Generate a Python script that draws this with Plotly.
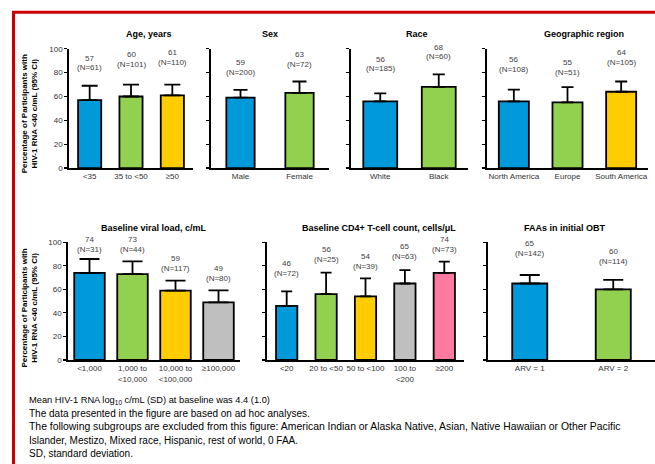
import plotly.graph_objects as go

W, H = 655, 464

# ---------------- data ----------------
age_cats = ["&lt;35", "35 to &lt;50", "≥50"]
age_pct = [57, 60, 61]
age_n = [61, 101, 110]
age_upper = [69, 70, 70]

sex_cats = ["Male", "Female"]
sex_pct = [59, 63]
sex_n = [200, 72]
sex_upper = [65.5, 72.6]

race_cats = ["White", "Black"]
race_pct = [56, 68]
race_n = [185, 60]
race_upper = [62.7, 78.6]

geo_cats = ["North America", "Europe", "South America"]
geo_pct = [56, 55, 64]
geo_n = [108, 51, 105]
geo_upper = [65.8, 67.9, 72.6]

vl_cats = ["&lt;1,000", "1,000 to<br>&lt;10,000", "10,000 to<br>&lt;100,000", "≥100,000"]
vl_pct = [74, 73, 59, 49]
vl_n = [31, 44, 117, 80]
vl_upper = [85.8, 83.8, 67.5, 59.2]

cd4_cats = ["&lt;20", "20 to &lt;50", "50 to &lt;100", "100 to<br>&lt;200", "≥200"]
cd4_pct = [46, 56, 54, 65, 74]
cd4_n = [72, 25, 39, 63, 73]
cd4_upper = [58.3, 74.2, 69.4, 76.4, 83.6]

faa_cats = ["ARV = 1", "ARV = 2"]
faa_pct = [65, 60]
faa_n = [142, 114]
faa_upper = [72.2, 68]

y_ticks = [0, 20, 40, 60, 80, 100]

footnotes = [
    "Mean HIV-1 RNA log<sub>10</sub> c/mL (SD) at baseline was 4.4 (1.0)",
    "The data presented in the figure are based on ad hoc analyses.",
    "The following subgroups are excluded from this figure: American Indian or Alaska Native, Asian, Native Hawaiian or Other Pacific",
    "Islander, Mestizo, Mixed race, Hispanic, rest of world, 0 FAA.",
    "SD, standard deviation.",
]

# ---------------- style ----------------
BLUE, GREEN, YELLOW, GRAY, PINK = "#0099DA", "#92D050", "#FFCC00", "#BFBFBF", "#FF7AA2"
FONT = "Liberation Sans, Arial, sans-serif"
foot_sizes = [9.3, 10, 10.4, 10, 10]

def px_x(x):
    return x / W

def px_y(y):
    return 1 - y / H

TOP = (45.7, 167.3)
BOT = (243.0, 363.0)

panels = [
    dict(title="Age, years", cats=age_cats, pct=age_pct, n=age_n, up=age_upper,
         xd=(69, 193), yd=TOP, bw=0.56, cap=8, colors=[BLUE, GREEN, YELLOW],
         lift=[17.8, 19.9, 21.9], tx=149, first=True),
    dict(title="Sex", cats=sex_cats, pct=sex_pct, n=sex_n, up=sex_upper,
         xd=(211, 329), yd=TOP, bw=0.48, cap=7, colors=[BLUE, GREEN],
         lift=[17.6, 17.0], tx=270, first=False),
    dict(title="Race", cats=race_cats, pct=race_pct, n=race_n, up=race_upper,
         xd=(351, 468), yd=TOP, bw=0.58, cap=6, colors=[BLUE, GREEN],
         lift=[24.3, 17.5], tx=417, first=False),
    dict(title="Geographic region", cats=geo_cats, pct=geo_pct, n=geo_n, up=geo_upper,
         xd=(487, 648), yd=TOP, bw=0.56, cap=6, colors=[BLUE, GREEN, YELLOW],
         lift=[19.9, 14.6, 19.0], tx=584, first=False),
    dict(title="Baseline viral load, c/mL", cats=vl_cats, pct=vl_pct, n=vl_n, up=vl_upper,
         xd=(68, 240), yd=BOT, bw=0.71, cap=10, colors=[BLUE, GREEN, YELLOW, GRAY],
         lift=[9.6, 12, 12, 12], tx=154, first=True),
    dict(title="Baseline CD4+ T-cell count, cells/μL", cats=cd4_cats, pct=cd4_pct, n=cd4_n, up=cd4_upper,
         xd=(267, 464), yd=BOT, bw=0.54, cap=5.5, colors=[BLUE, GREEN, YELLOW, GRAY, PINK],
         lift=[18, 13.2, 12, 13.9, 12], tx=379, first=False),
    dict(title="FAAs in initial OBT", cats=faa_cats, pct=faa_pct, n=faa_n, up=faa_upper,
         xd=(488, 655), yd=BOT, bw=0.42, cap=10, colors=[BLUE, GREEN],
         lift=[21.6, 18.8], tx=565, first=False),
]

fig = go.Figure()
annotations = []
layout = {}

for i, p in enumerate(panels):
    k = "" if i == 0 else str(i + 1)
    xa, ya = "x" + k, "y" + k
    err_plus = [u - v for u, v in zip(p["up"], p["pct"])]
    fig.add_trace(go.Bar(
        x=p["cats"], y=p["pct"], xaxis=xa, yaxis=ya, width=p["bw"],
        marker=dict(color=p["colors"], line=dict(color="black", width=1.8)),
        error_y=dict(type="data", symmetric=False, array=err_plus,
                     arrayminus=[0] * len(err_plus), color="black",
                     thickness=1.8, width=p["cap"]),
        showlegend=False, hoverinfo="skip",
    ))
    layout["xaxis" + k] = dict(
        domain=[px_x(p["xd"][0]), min(1.0, px_x(p["xd"][1]))], anchor=ya,
        type="category", range=[-0.5, len(p["cats"]) - 0.5],
        showline=True, linecolor="black", linewidth=1.8, ticks="",
        showgrid=False, zeroline=False, fixedrange=True,
        tickfont=dict(family=FONT, size=8, color="#333333"),
    )
    layout["yaxis" + k] = dict(
        domain=[px_y(p["yd"][1]), px_y(p["yd"][0])], anchor=xa,
        range=[0, 100], tickvals=y_ticks, showticklabels=p["first"],
        showline=True, linecolor="black", linewidth=1.8,
        ticks="outside", ticklen=3, tickwidth=1.2, tickcolor="black",
        showgrid=False, zeroline=False, fixedrange=True,
        tickfont=dict(family=FONT, size=8, color="#333333"),
    )
    # panel title
    annotations.append(dict(
        text="<b>%s</b>" % p["title"], xref="paper", yref="paper",
        x=px_x(p["tx"]), y=px_y(p["yd"][0] - 15), xanchor="center", yanchor="middle",
        showarrow=False, font=dict(family=FONT, size=9, color="black"),
    ))
    # value labels
    for c, v, n, u, lift in zip(p["cats"], p["pct"], p["n"], p["up"], p["lift"]):
        annotations.append(dict(
            text="(N=%d)" % n, xref=xa, yref=ya, x=c, y=u, yshift=lift,
            xanchor="center", yanchor="middle", showarrow=False,
            font=dict(family=FONT, size=8, color="#404040"),
        ))
        annotations.append(dict(
            text="%d" % v, xref=xa, yref=ya, x=c, y=u, yshift=lift + 9.8,
            xanchor="center", yanchor="middle", showarrow=False,
            font=dict(family=FONT, size=8, color="#404040"),
        ))

# y-axis titles
for ycen in (112, 310):
    annotations.append(dict(
        text="<b>Percentage of Participants with<br>HIV-1 RNA &lt;40 c/mL (95% CI)</b>",
        xref="paper", yref="paper", x=px_x(29.5), y=px_y(ycen),
        xanchor="center", yanchor="middle", textangle=-90, showarrow=False,
        font=dict(family=FONT, size=8, color="black"),
    ))

# footnotes
for j, (line, fs) in enumerate(zip(footnotes, foot_sizes)):
    annotations.append(dict(
        text=line, xref="paper", yref="paper", x=px_x(27), y=px_y(404 + j * 13.6),
        xanchor="left", yanchor="middle", showarrow=False,
        font=dict(family=FONT, size=fs, color="black"),
    ))

# red frame
shapes = [dict(type="rect", xref="paper", yref="paper",
               x0=px_x(13.5), y0=px_y(H + 20), x1=px_x(W + 20), y1=px_y(8.5),
               line=dict(color="#CC0000", width=3), fillcolor="rgba(0,0,0,0)", layer="above")]

fig.update_layout(
    width=W, height=H, margin=dict(l=0, r=0, t=0, b=0),
    paper_bgcolor="white", plot_bgcolor="white",
    annotations=annotations, shapes=shapes, bargap=0.4,
    font=dict(family=FONT), **layout,
)

fig.write_html(
    "out.html",
    config={"displayModeBar": False, "staticPlot": True},
    post_script="document.body.style.margin='0';document.body.style.overflow='hidden';",
)
